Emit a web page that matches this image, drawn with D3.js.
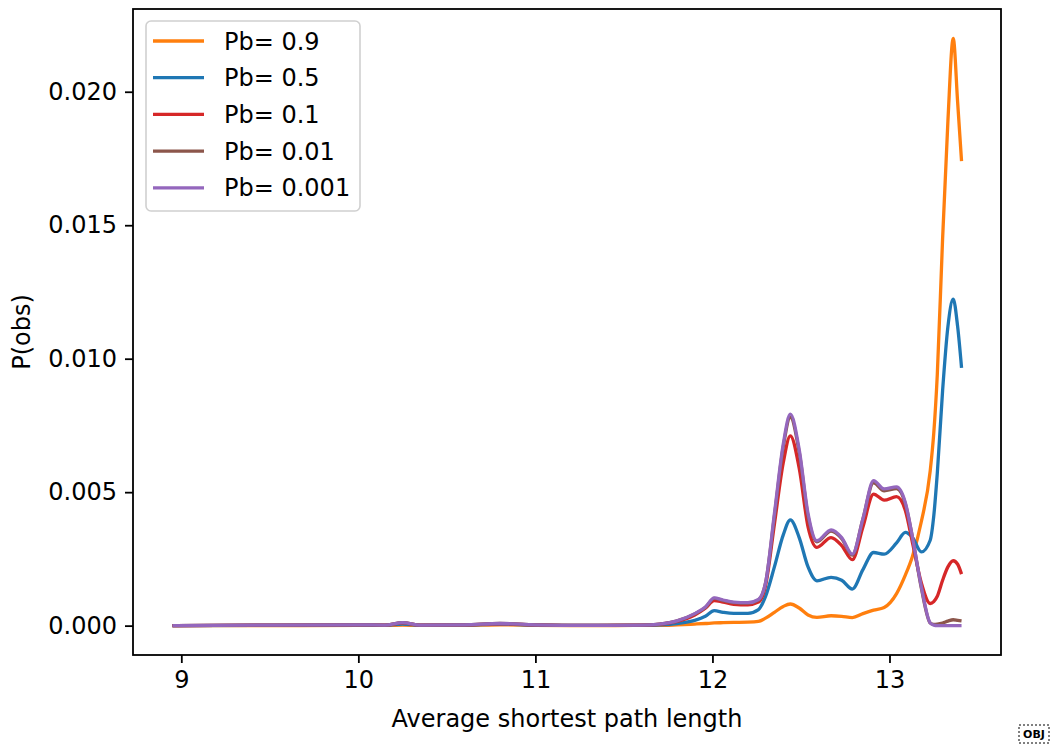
<!DOCTYPE html>
<html>
<head>
<meta charset="utf-8">
<script src="https://cdn.jsdelivr.net/npm/d3@7"></script>
<style>
  body { margin: 0; background: #fff; }
  svg text { font-family: "DejaVu Sans", sans-serif; fill: #000; }
</style>
</head>
<body>
<script>
// shared x grid (average shortest path length)
const xs = [8.95, 9.5, 10.0, 10.15, 10.25, 10.35, 10.6, 10.8, 11.0, 11.3, 11.6, 11.7, 11.8, 11.9, 11.96,
  12.01, 12.06, 12.12, 12.2, 12.26, 12.3, 12.35, 12.4, 12.44, 12.49, 12.54, 12.59, 12.67, 12.73, 12.79,
  12.85, 12.91, 12.97, 13.04, 13.09, 13.13, 13.18, 13.23, 13.25, 13.27, 13.3, 13.33, 13.36, 13.385, 13.407];

const pb09 = [0, 0, 0.00001, 0.00001, 0.00002, 0.00001, 0.00001, 0.00003, 0.00001, 0, 0.00001, 0.00001, 0.00003, 0.00006, 0.00008,
  0.0001, 0.00011, 0.00012, 0.00013, 0.00016, 0.00028, 0.0005, 0.00072, 0.00081, 0.00066, 0.0004, 0.00031, 0.00037, 0.00035, 0.0003,
  0.00045, 0.00058, 0.00068, 0.0012, 0.0019, 0.0026, 0.0039, 0.0058, 0.0072, 0.0094, 0.0145, 0.0189, 0.0220, 0.0196, 0.0174];

const pb05 = [0, 0.00001, 0.00002, 0.00001, 0.00006, 0.00001, 0.00002, 0.00006, 0.00002, 0.00001, 0.00001, 0.00003, 0.00008, 0.0002, 0.00035,
  0.00056, 0.0005, 0.00046, 0.00046, 0.0006, 0.0011, 0.0022, 0.0034, 0.00396, 0.0033, 0.0022, 0.00168, 0.00181, 0.0017, 0.00137,
  0.0021, 0.00274, 0.00268, 0.0031, 0.00349, 0.0033, 0.00276, 0.0032, 0.0041, 0.0057, 0.0088, 0.0112, 0.01223, 0.0112, 0.00966];

const pb01 = [0, 0.00002, 0.00003, 0.00002, 0.0001, 0.00002, 0.00003, 0.00007, 0.00003, 0.00001, 0.00002, 0.00005, 0.00016, 0.0004, 0.00065,
  0.00094, 0.00088, 0.0008, 0.00078, 0.00088, 0.0015, 0.0038, 0.0061, 0.00711, 0.0059, 0.0037, 0.00293, 0.0033, 0.0030, 0.00247,
  0.0037, 0.00493, 0.0047, 0.00483, 0.0043, 0.0031, 0.0016, 0.00083, 0.0009, 0.0011, 0.0017, 0.0022, 0.00243, 0.0023, 0.00193];

const pb001 = [0, 0.00002, 0.00003, 0.00002, 0.00011, 0.00002, 0.00003, 0.00008, 0.00003, 0.00001, 0.00002, 0.00006, 0.00018, 0.00044, 0.00068,
  0.00102, 0.00094, 0.00086, 0.00084, 0.00096, 0.0016, 0.0041, 0.0067, 0.0078, 0.0065, 0.0041, 0.00314, 0.00354, 0.00326, 0.00264,
  0.0040, 0.00535, 0.00505, 0.00513, 0.00455, 0.0033, 0.0014, 0.0001, 0.00005, 0.00006, 0.0001, 0.00017, 0.00022, 0.0002, 0.00018];

const pb0001 = [0, 0.00002, 0.00003, 0.00002, 0.00011, 0.00002, 0.00003, 0.00008, 0.00003, 0.00001, 0.00002, 0.00006, 0.00018, 0.00045, 0.0007,
  0.00104, 0.00096, 0.00088, 0.00086, 0.00098, 0.0016, 0.0042, 0.0068, 0.00792, 0.0066, 0.0042, 0.00318, 0.00359, 0.0033, 0.00268,
  0.0040, 0.00543, 0.00512, 0.0052, 0.0046, 0.0033, 0.00145, 0.0001, 0.00002, 0, 0, 0, 0, 0, 0];

const labels = ["Pb= 0.9", "Pb= 0.5", "Pb= 0.1", "Pb= 0.01", "Pb= 0.001"];
const colors = ["#ff7f0e", "#1f77b4", "#d62728", "#8c564b", "#9467bd"];
const series = [pb09, pb05, pb01, pb001, pb0001];

const xTicks = [9, 10, 11, 12, 13];
const yTicks = [0, 0.005, 0.01, 0.015, 0.02];

let width = 1054;
let height = 751;
let mLeft = 133, mRight = 1001, mTop = 9, mBottom = 655;
let fs = 24;

let svg = d3
  .select("body")
  .append("svg")
  .attr("width", width)
  .attr("height", height);

// matplotlib style 5% margins
let xMin = d3.min(xs), xMax = d3.max(xs);
let yMin = d3.min(series, (s) => d3.min(s)), yMax = d3.max(series, (s) => d3.max(s));
let xPad = (xMax - xMin) * 0.05, yPad = (yMax - yMin) * 0.05;

let x = d3.scaleLinear().domain([xMin - xPad, xMax + xPad]).range([mLeft, mRight]);
let y = d3.scaleLinear().domain([yMin - yPad, yMax + yPad]).range([mBottom, mTop]);

let line = d3
  .line()
  .x((d) => x(d[0]))
  .y((d) => y(d[1]))
  .curve(d3.curveMonotoneX);

svg
  .append("g")
  .selectAll("path")
  .data(series)
  .enter()
  .append("path")
  .attr("d", (s) => line(s.map((v, i) => [xs[i], v])))
  .attr("fill", "none")
  .attr("stroke", (d, i) => colors[i])
  .attr("stroke-width", 3.3)
  .attr("stroke-linejoin", "round")
  .attr("stroke-linecap", "butt");

// axes
let xAxis = svg
  .append("g")
  .attr("transform", "translate(0," + mBottom + ")")
  .call(d3.axisBottom(x).tickValues(xTicks).tickFormat(d3.format("d")).tickSize(8).tickPadding(8));
let yAxis = svg
  .append("g")
  .attr("transform", "translate(" + mLeft + ",0)")
  .call(d3.axisLeft(y).tickValues(yTicks).tickFormat(d3.format(".3f")).tickSize(8).tickPadding(8));

[xAxis, yAxis].forEach((a) => {
  a.select(".domain").remove();
  a.selectAll(".tick line").attr("stroke", "#000").attr("stroke-width", 1.8);
  a.selectAll(".tick text").style("font-size", fs + "px").attr("fill", "#000");
});

// frame
svg
  .append("rect")
  .attr("x", mLeft)
  .attr("y", mTop)
  .attr("width", mRight - mLeft)
  .attr("height", mBottom - mTop)
  .attr("fill", "none")
  .attr("stroke", "#000")
  .attr("stroke-width", 1.8);

// axis labels
svg
  .append("text")
  .attr("x", (mLeft + mRight) / 2)
  .attr("y", 727)
  .attr("text-anchor", "middle")
  .style("font-size", fs + "px")
  .text("Average shortest path length");

svg
  .append("text")
  .attr("transform", "translate(30," + (mTop + mBottom) / 2 + ") rotate(-90)")
  .attr("text-anchor", "middle")
  .style("font-size", fs + "px")
  .text("P(obs)");

// legend
let legend = svg.append("g").attr("transform", "translate(146,21)");
legend
  .append("rect")
  .attr("width", 214)
  .attr("height", 190)
  .attr("rx", 5)
  .attr("fill", "#fff")
  .attr("fill-opacity", 0.8)
  .attr("stroke", "#d0d0d0")
  .attr("stroke-width", 1.6);

let rows = legend
  .selectAll("g.row")
  .data(labels)
  .enter()
  .append("g")
  .attr("class", "row")
  .attr("transform", (d, i) => "translate(0," + (20 + i * 36.7) + ")");

rows
  .append("line")
  .attr("x1", 7)
  .attr("x2", 58)
  .attr("stroke", (d, i) => colors[i])
  .attr("stroke-width", 3.3);

rows
  .append("text")
  .attr("x", 78)
  .attr("dy", "0.36em")
  .style("font-size", fs + "px")
  .text((d) => d);

// small object marker at the bottom right corner
let obj = svg.append("g").attr("transform", "translate(1019,725)");
obj
  .append("rect")
  .attr("width", 30)
  .attr("height", 18)
  .attr("fill", "none")
  .attr("stroke", "#000")
  .attr("stroke-width", 1)
  .attr("stroke-dasharray", "2,2");
obj
  .append("text")
  .attr("x", 15)
  .attr("y", 13)
  .attr("text-anchor", "middle")
  .style("font-size", "11px")
  .style("font-weight", "bold")
  .text("OBJ");
</script>
</body>
</html>
